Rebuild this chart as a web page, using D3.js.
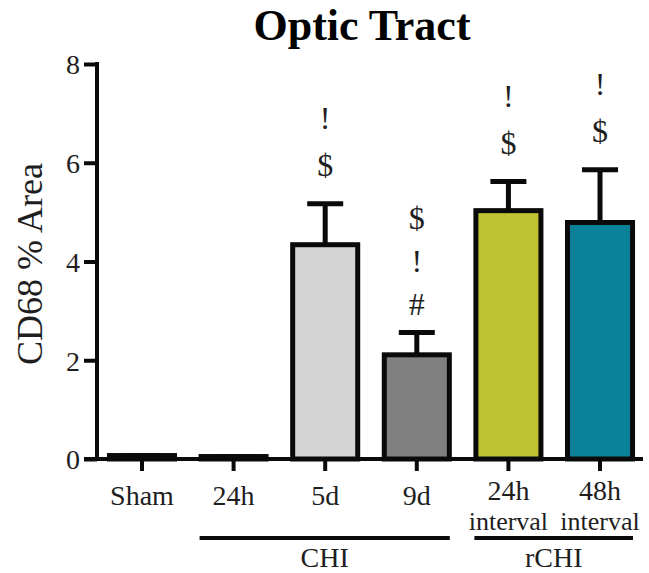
<!DOCTYPE html>
<html><head><meta charset="utf-8">
<script src="https://cdn.jsdelivr.net/npm/d3@7"></script>
<style>body{margin:0;background:#fff}text{font-family:"Liberation Serif","Times New Roman",serif}</style>
</head><body><svg id="c" width="649" height="573"></svg>
<script>
const categories = ["Sham","24h","5d","9d","24h interval","48h interval"];
const tickLines = [["Sham"],["24h"],["5d"],["9d"],["24h","interval"],["48h","interval"]];
const means = [0.07,0.05,4.34,2.11,5.03,4.79];
const errTop = [0.07,0.05,5.17,2.56,5.62,5.86];
const colors = ["#ffffff","#ffffff","#d4d4d4","#7f807f","#bfc232","#0a8099"];
const annotations = [[],[],["$","!"],["#","!","$"],["$","!"],["$","!"]];
const yTicks = [0,2,4,6,8];
const groups = [{label:"CHI",from:"24h",to:"9d"},{label:"rCHI",from:"24h interval",to:"48h interval"}];

const svg = d3.select("#c");
const x = d3.scaleBand().domain(categories).range([97,645]).paddingInner(0.29).paddingOuter(0.136);
const y = d3.scaleLinear().domain([0,8]).range([459,64]);
const ink = "#0a0a0a", txt = "#1e1e1e";

svg.append("text").attr("x",362).attr("y",40).attr("text-anchor","middle")
  .attr("font-size",44).attr("font-weight","bold").attr("fill","#000").text("Optic Tract");

svg.append("text").attr("transform","translate(42,264) rotate(-90)").attr("text-anchor","middle")
  .attr("font-size",36).attr("fill",txt).text("CD68 % Area");

const bw = x.bandwidth();
categories.forEach((c,i)=>{
  const cx = x(c)+bw/2;
  svg.append("line").attr("x1",cx).attr("x2",cx).attr("y1",y(means[i])).attr("y2",y(errTop[i]))
    .attr("stroke",ink).attr("stroke-width",5);
  svg.append("line").attr("x1",cx-18).attr("x2",cx+18).attr("y1",y(errTop[i])).attr("y2",y(errTop[i]))
    .attr("stroke",ink).attr("stroke-width",5);
  svg.append("rect").attr("x",x(c)).attr("width",bw).attr("y",y(means[i])).attr("height",y(0)-y(means[i]))
    .attr("fill",colors[i]).attr("stroke",ink).attr("stroke-width",5);
  const n = annotations[i].length;
  annotations[i].forEach((a,k)=>{
    const base = y(errTop[i]) - (n===3?18:28) - k*(n===3?43:47);
    svg.append("text").attr("x",cx).attr("y",base).attr("text-anchor","middle")
      .attr("font-size",32).attr("fill",txt).text(a);
  });
});

// y axis
const ya = svg.append("g").attr("transform","translate(97,0)")
  .call(d3.axisLeft(y).tickValues(yTicks).tickSize(13).tickPadding(4).tickFormat(d3.format("d")));
ya.select(".domain").attr("stroke",ink).attr("stroke-width",4).attr("d","M0,461V62");
ya.selectAll(".tick line").attr("stroke",ink).attr("stroke-width",4);
ya.selectAll(".tick text").attr("font-size",28).attr("fill",txt).attr("font-family","Liberation Serif").attr("dy","0.35em");

// x axis
const xa = svg.append("g").attr("transform","translate(0,459)")
  .call(d3.axisBottom(x).tickSize(12).tickFormat(""));
xa.select(".domain").attr("stroke",ink).attr("stroke-width",4).attr("d","M84,0H643");
xa.selectAll(".tick line").attr("stroke",ink).attr("stroke-width",4);
categories.forEach((c,i)=>{
  const two = tickLines[i].length > 1;
  const t = svg.append("text").attr("x",x(c)+bw/2).attr("y",two?500:505).attr("text-anchor","middle")
    .attr("font-size",28).attr("fill",txt);
  tickLines[i].forEach((l,k)=>t.append("tspan").attr("x",x(c)+bw/2).attr("dy",k===0?0:30)
    .attr("font-size",k===0?28:26).text(l));
});

groups.forEach(g=>{
  const x1 = x(g.from)+bw/2-34, x2 = x(g.to)+bw/2+33;
  svg.append("line").attr("x1",x1).attr("x2",x2).attr("y1",538).attr("y2",538)
    .attr("stroke",ink).attr("stroke-width",4);
  svg.append("text").attr("x",(x1+x2)/2).attr("y",567).attr("text-anchor","middle")
    .attr("font-size",28).attr("fill",txt).text(g.label);
});
</script></body></html>
